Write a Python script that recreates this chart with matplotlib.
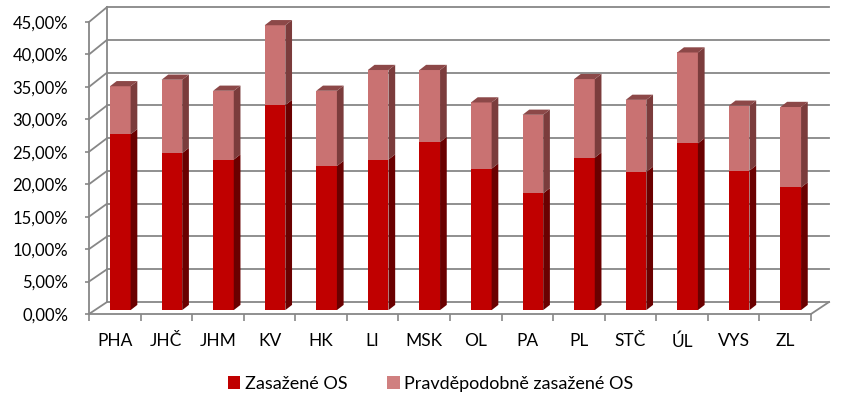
import matplotlib
matplotlib.use("Agg")
import matplotlib.pyplot as plt
from matplotlib.patches import Polygon, Patch
import numpy as np

plt.rcParams['font.family'] = ['Lato', 'DejaVu Sans']

# data (percent)
regions = ["PHA", "JHČ", "JHM", "KV", "HK", "LI", "MSK", "OL", "PA", "PL", "STČ", "ÚL", "VYS", "ZL"]
zasazene = [27.1, 24.2, 23.2, 31.6, 22.2, 23.2, 25.9, 21.8, 18.0, 23.5, 21.3, 25.7, 21.5, 18.9]
celkem = [34.5, 35.5, 33.8, 43.9, 33.8, 37.0, 37.0, 32.0, 30.1, 35.6, 32.4, 39.7, 31.5, 31.3]
pravdepodobne = [c - z for c, z in zip(celkem, zasazene)]
y_ticks = [0, 5, 10, 15, 20, 25, 30, 35, 40, 45]
series_names = ["Zasažené OS", "Pravděpodobně zasažené OS"]

GRID = "#878787"
RED_FRONT, RED_SIDE, RED_TOP = "#C00000", "#6A0000", "#8A0000"
PINK_FRONT, PINK_SIDE, PINK_TOP = "#C97272", "#7B3C3C", "#8C4848"

fig = plt.figure(figsize=(8.43, 3.96), dpi=100)
ax = fig.add_axes([89 / 843, (396 - 314) / 396, (811 - 89) / 843, (314 - 22) / 396])
n = len(regions)
x = np.arange(n)
ax.set_xlim(-0.5, n - 0.5)
ax.set_ylim(0, 45)
for s in ax.spines.values():
    s.set_visible(False)

# depth of the chart box (back wall), in data units
wall_dx = 0.35
def back_y(v):
    return 1.85 + v * 1.01

x0, x1 = -0.5, n - 0.5
for v in y_ticks:
    ax.plot([x0 + wall_dx, x1 + wall_dx], [back_y(v), back_y(v)], color=GRID, lw=1.3, clip_on=False, zorder=1)
    ax.plot([x0, x0 + wall_dx], [v, back_y(v)], color=GRID, lw=1.3, clip_on=False, zorder=1)
ax.plot([x0 + wall_dx, x0 + wall_dx], [back_y(0), back_y(45)], color=GRID, lw=1.3, clip_on=False, zorder=1)
ax.plot([x0, x0], [0, 45], color=GRID, lw=1.3, clip_on=False, zorder=1)
ax.plot([x0, x1], [0, 0], color=GRID, lw=1.3, clip_on=False, zorder=1)
ax.plot([x1, x1 + wall_dx], [0, back_y(0)], color=GRID, lw=1.3, clip_on=False, zorder=1)

# faux 3d columns
bar_off, bar_w = 0.107, 0.40
side_dx, side_dy = 0.13, 0.8
base = 0.6

def draw_segment(xc, y0, y1, front, side, top, with_top):
    xl, xr = xc - bar_w / 2, xc + bar_w / 2
    ax.bar(xc, y1 - y0, bottom=y0, width=bar_w, color=front, linewidth=0, zorder=3)
    ax.add_patch(Polygon([(xr, y0), (xr + side_dx, y0 + side_dy), (xr + side_dx, y1 + side_dy), (xr, y1)],
                         closed=True, facecolor=side, edgecolor="none", zorder=3, clip_on=False))
    if with_top:
        ax.add_patch(Polygon([(xl, y1), (xr, y1), (xr + side_dx, y1 + side_dy), (xl + side_dx, y1 + side_dy)],
                             closed=True, facecolor=top, edgecolor="none", zorder=3, clip_on=False))

for i in range(n):
    xc = x[i] + bar_off
    draw_segment(xc, base, base + zasazene[i], RED_FRONT, RED_SIDE, RED_TOP, False)
    draw_segment(xc, base + zasazene[i], base + celkem[i], PINK_FRONT, PINK_SIDE, PINK_TOP, True)

# ticks
ax.set_yticks(y_ticks)
ax.set_yticklabels([f"{v:.2f}".replace(".", ",") + "%" for v in y_ticks])
ax.tick_params(axis="y", length=3, width=1.2, color=GRID, pad=12, labelsize=12)
ax.set_xticks(np.arange(-0.5, n, 1.0))
ax.set_xticklabels([])
ax.tick_params(axis="x", which="major", length=5, width=1.2, color=GRID)
ax.set_xticks(x, minor=True)
ax.set_xticklabels(regions, minor=True)
ax.tick_params(axis="x", which="minor", length=0, pad=14, labelsize=12.5)

handles = [Patch(facecolor=RED_FRONT), Patch(facecolor="#D08080")]
fig.legend(handles, series_names, loc="center", bbox_to_anchor=(0.511, 0.03), ncol=2, frameon=False,
           fontsize=13, handlelength=0.7, handleheight=0.7, handletextpad=0.25, columnspacing=2.2)

fig.savefig("out.png", dpi=100)
